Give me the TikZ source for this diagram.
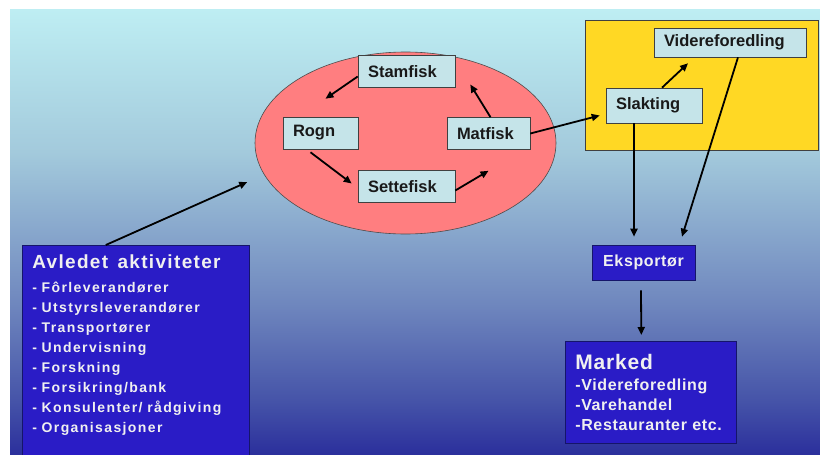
\documentclass[tikz,border=0pt]{standalone}
\usepackage{fontspec}
\setmainfont{Liberation Sans}
\usetikzlibrary{arrows.meta,shapes.geometric}
\definecolor{bgtop}{HTML}{BEEEF3}
\definecolor{bghigh}{HTML}{A3CADC}
\definecolor{bgmid}{HTML}{6F87BE}
\definecolor{bglow}{HTML}{4553A8}
\definecolor{bgbot}{HTML}{2B2F9C}
\definecolor{stagefill}{HTML}{C5E4E9}
\definecolor{ellipsefill}{HTML}{FF7E80}
\definecolor{yellowbox}{HTML}{FFD824}
\definecolor{boxblue}{HTML}{2A1CC6}
\definecolor{navyline}{HTML}{15156A}
\pgfdeclareverticalshading{bgfade}{100bp}{color(0bp)=(bgbot); color(25bp)=(bgbot); color(31bp)=(bglow); color(42bp)=(bgmid); color(59bp)=(bghigh); color(75bp)=(bgtop); color(100bp)=(bgtop)}

\begin{document}
\begin{tikzpicture}[x=1pt,y=-1pt,line width=.6pt,
  stage/.style={draw=black!75,fill=stagefill,inner xsep=10pt,inner ysep=0pt,minimum height=32pt,align=left,text=black!90,font=\fontsize{16.5}{19}\selectfont\bfseries},
  darkbox/.style={draw=navyline,fill=boxblue},
  boxtext/.style={text=white!94!black,inner xsep=10pt,inner ysep=0pt,align=left},
  flow/.style={line width=1.8pt,-{Triangle[length=8pt,width=7pt]}}]
\path[use as bounding box] (0,0) rectangle (820,455);
\fill[white] (0,0) rectangle (820,455);
\shade[shading=bgfade] (10,9) rectangle (820,455);
\node[ellipse,draw=black!70,fill=ellipsefill,minimum width=301pt,minimum height=182pt,inner sep=0pt] (oppdrett) at (405.5,143) {};
\draw[black!75,fill=yellowbox] (585,20) rectangle (818,150);
\node[stage,text width=77pt] (stamfisk) at (406.5,71.5) {Stamfisk};
\node[stage,text width=55pt] (rogn) at (320.5,133) {Rogn};
\node[stage,text width=63pt] (matfisk) at (488.5,133.5) {Matfisk};
\node[stage,text width=77pt] (settefisk) at (406.5,186.5) {Settefisk};
\node[stage,text width=132pt,minimum height=29pt] (videreforedling) at (730,42.5) {Videreforedling};
\node[stage,text width=76pt,minimum height=35pt] (slakting) at (654,105.5) {Slakting};
\node[darkbox,boxtext,inner xsep=0pt,minimum width=103pt,minimum height=35pt,font=\fontsize{16}{19}\selectfont\addfontfeature{LetterSpace=4}\bfseries] (eksportor) at (643.5,262.5) {Eksportør};
\node[darkbox,boxtext,anchor=north west,text width=151pt,minimum height=102pt,font=\fontsize{16}{20}\selectfont\addfontfeature{LetterSpace=4}\bfseries] (marked) at (565,341) {{\fontsize{21}{21}\selectfont Marked}\\[1pt]
  -Videreforedling\\
  -Varehandel\\
  -Restauranter etc.};
\draw[darkbox] (22,245) rectangle (249,470);
\node[boxtext,anchor=north west,text width=207pt,inner ysep=9pt,font=\fontsize{14}{20}\selectfont\addfontfeature{LetterSpace=10}\bfseries] (avledet) at (22,245) {{\fontsize{19}{20}\selectfont\addfontfeature{LetterSpace=7}Avledet\ \ aktiviteter}\\[4pt]
  - Fôrleverandører\\
  - Utstyrsleverandører\\
  - Transportører\\
  - Undervisning\\
  - Forskning\\
  - Forsikring/bank\\
  - Konsulenter/ rådgiving\\
  - Organisasjoner};
\draw[flow] ([shift={(0,5)}]stamfisk.west) -- ([shift={(5,-18)}]rogn.north);
\draw[flow] ([shift={(-10,3)}]rogn.south) -- ([shift={(-6,-3)}]settefisk.west);
\draw[flow] ([shift={(0,4)}]settefisk.east) -- ([shift={(0,21)}]matfisk.south);
\draw[flow] ([shift={(2,0)}]matfisk.north) -- ([shift={(15,13)}]stamfisk.east);
\draw[flow] (matfisk.east) -- ([shift={(-6,10)}]slakting.west);
\draw[flow] ([shift={(8,0)}]slakting.north) -- ([shift={(-42,6)}]videreforedling.south);
\draw[flow] ([shift={(-20,0)}]slakting.south) -- ([shift={(-9.5,-8)}]eksportor.north);
\draw[flow] ([shift={(8,0)}]videreforedling.south) -- ([shift={(38.5,-8)}]eksportor.north);
\draw[flow] ([shift={(-2.5,10)}]eksportor.south) -- ([shift={(-9.5,-6)}]marked.north);
\draw[flow] ([shift={(-30,0)}]avledet.north) -- ([shift={(-22,0)}]oppdrett.196);
\end{tikzpicture}
\end{document}
